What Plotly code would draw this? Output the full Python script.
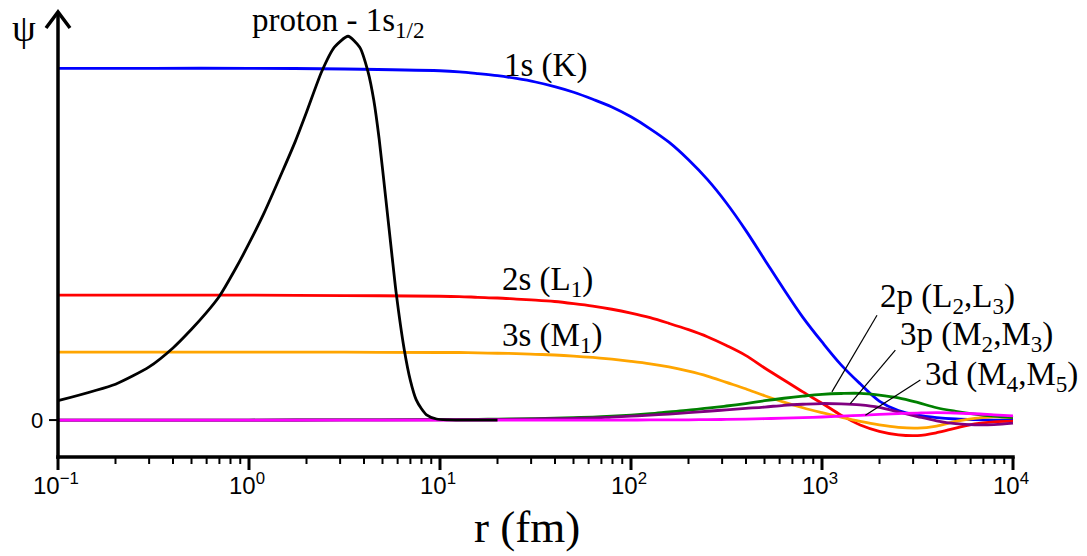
import math
import plotly.graph_objects as go

# radial distance (fm) at which the electron wave functions are tabulated
r_grid = [0.1, 0.316, 1, 3.16, 10, 12.6, 15.8, 20, 25.1, 31.6, 39.8, 50.1,
          63.1, 79.4, 100, 126, 158, 200, 251, 316, 398, 501, 631, 794, 1000,
          1259, 1585, 1995, 2512, 3162, 3981, 5012, 6310, 7943, 10000]

psi_1s = [1.000, 1.000, 1.000, 0.998, 0.993, 0.990, 0.985, 0.979, 0.971, 0.961,
          0.948, 0.932, 0.912, 0.890, 0.862, 0.828, 0.790, 0.740, 0.684, 0.617,
          0.540, 0.456, 0.372, 0.292, 0.222, 0.157, 0.103, 0.054, 0.027, 0.014,
          0.007, 0.003, 0.001, 0.000, 0.000]
psi_2s = [0.355, 0.355, 0.355, 0.354, 0.352, 0.351, 0.349, 0.347, 0.344, 0.341,
          0.337, 0.331, 0.324, 0.315, 0.304, 0.291, 0.275, 0.257, 0.237, 0.212,
          0.184, 0.148, 0.114, 0.080, 0.048, 0.014, -0.014, -0.032, -0.042,
          -0.044, -0.036, -0.023, -0.011, -0.005, -0.003]
psi_3s = [0.193, 0.193, 0.193, 0.193, 0.192, 0.192, 0.191, 0.190, 0.189, 0.187,
          0.185, 0.182, 0.178, 0.173, 0.167, 0.160, 0.151, 0.139, 0.125, 0.107,
          0.089, 0.069, 0.051, 0.035, 0.021, 0.008, -0.004, -0.014, -0.021,
          -0.023, -0.017, -0.004, 0.005, 0.009, 0.007]
psi_2p = [0.0, 0.0, 0.0001, 0.0004, 0.0012, 0.0016, 0.0020, 0.0026, 0.0033,
          0.0042, 0.0053, 0.0067, 0.0085, 0.011, 0.014, 0.018, 0.023, 0.028,
          0.034, 0.040, 0.047, 0.055, 0.062, 0.068, 0.073, 0.0755, 0.076, 0.071,
          0.063, 0.050, 0.035, 0.025, 0.017, 0.011, 0.007]
psi_3p = [0.0, 0.0, 0.0001, 0.0003, 0.0009, 0.0012, 0.0015, 0.0019, 0.0024,
          0.0030, 0.0038, 0.0048, 0.0060, 0.0085, 0.011, 0.014, 0.017, 0.021,
          0.025, 0.029, 0.033, 0.037, 0.042, 0.045, 0.047, 0.046, 0.043, 0.036,
          0.023, 0.010, -0.002, -0.010, -0.0135, -0.013, -0.009]
psi_3d = [0.0, 0.0, 0.0, 0.0, 0.0, 0.0, 0.0, 0.0, 0.0, 0.0, 0.0, 0.0, 0.0001,
          0.0001, 0.0002, 0.0003, 0.0005, 0.0008, 0.0012, 0.0018, 0.0027,
          0.0040, 0.0053, 0.0068, 0.0087, 0.011, 0.0135, 0.016, 0.0185, 0.020,
          0.021, 0.020, 0.018, 0.015, 0.012]

# proton 1s1/2 wave function
r_proton = [0.1, 0.2, 0.3, 0.4, 0.5, 0.6, 0.7, 0.85, 1.0, 1.2, 1.5, 1.75, 2.0,
            2.4, 2.8, 3.3, 3.8, 4.2, 4.5, 4.8, 5.2, 5.6, 5.9, 6.5, 7.0, 7.5,
            8.0, 8.5, 9.6, 11, 13, 20]
psi_proton = [0.055, 0.102, 0.151, 0.205, 0.258, 0.306, 0.352, 0.430, 0.502,
              0.589, 0.708, 0.793, 0.875, 0.990, 1.060, 1.091, 1.060, 0.990,
              0.910, 0.800, 0.630, 0.470, 0.360, 0.200, 0.112, 0.058, 0.032,
              0.015, 0.003, 0.0005, 0.0, 0.0]

x_tickvals = [0.1, 1, 10, 100, 1000, 10000]
x_ticktext = ["10<sup>\u22121</sup>", "10<sup>0</sup>", "10<sup>1</sup>",
              "10<sup>2</sup>", "10<sup>3</sup>", "10<sup>4</sup>"]
x_minor_vals = [m * d for d in (0.1, 1, 10, 100, 1000) for m in range(2, 10)]
y_tickvals = [0]
y_ticktext = ["0"]

# visible axis extent and where it sits on the page (pixels)
R_LOG_MIN, R_LOG_MAX = -1, 4
PSI_MIN, PSI_MAX = -0.105, 1.16
AX_LEFT, AX_RIGHT = 58, 1013
AX_BOTTOM, AX_TOP = 457, 12

W, H = 1087, 556
# plotting area is a little larger than the drawn axes so that the
# hand-drawn axis lines and ticks sit inside it
L, R, T, B = 40, 67, 6, 80
SERIF = "Liberation Serif"
SANS = "Liberation Sans"

DEC_PX = (AX_RIGHT - AX_LEFT) / (R_LOG_MAX - R_LOG_MIN)
PSI_PER_PX = (PSI_MAX - PSI_MIN) / (AX_BOTTOM - AX_TOP)
x_range = [R_LOG_MIN - (AX_LEFT - L) / DEC_PX,
           R_LOG_MAX + (W - R - AX_RIGHT) / DEC_PX]
y_range = [PSI_MIN - (H - B - AX_BOTTOM) * PSI_PER_PX,
           PSI_MAX + (AX_TOP - T) * PSI_PER_PX]


def fx(px):
    return (px - L) / (W - L - R)


def fy(py):
    return (H - B - py) / (H - T - B)


def r_px(r):
    return AX_LEFT + DEC_PX * (math.log10(r) - R_LOG_MIN)


def psi_py(psi):
    return AX_BOTTOM - (psi - PSI_MIN) / PSI_PER_PX


fig = go.Figure()

orbitals = [
    (psi_1s, "#0000ff"),
    (psi_2s, "#ff0000"),
    (psi_3s, "#ffa500"),
    (psi_2p, "#008000"),
    (psi_3p, "#800080"),
    (psi_3d, "#ff00ff"),
]
for values, color in orbitals:
    fig.add_trace(go.Scatter(
        x=r_grid, y=values, mode="lines",
        line=dict(color=color, width=2.8, shape="spline", smoothing=1.0),
        hoverinfo="skip", showlegend=False))

fig.add_trace(go.Scatter(
    x=r_proton, y=psi_proton, mode="lines",
    line=dict(color="black", width=2.8, shape="spline", smoothing=0.6),
    hoverinfo="skip", showlegend=False))

# leader lines from the p/d labels to their curves
leaders = [
    ([1941, 1127], [0.298, 0.080]),
    ([2421, 1406], [0.199, 0.047]),
    ([3273, 1687], [0.114, 0.014]),
]
for lx, ly in leaders:
    fig.add_trace(go.Scatter(
        x=lx, y=ly, mode="lines", line=dict(color="black", width=1.2),
        hoverinfo="skip", showlegend=False))

labels = [
    ("proton - 1s<sub>1/2</sub>", 250, 22),
    ("1s (K)", 502, 65),
    ("2s (L<sub>1</sub>)", 500, 281),
    ("3s (M<sub>1</sub>)", 500, 337),
    ("2p (L<sub>2</sub>,L<sub>3</sub>)", 878, 298),
    ("3p (M<sub>2</sub>,M<sub>3</sub>)", 898, 336),
    ("3d (M<sub>4</sub>,M<sub>5</sub>)", 923, 376),
]
annotations = []
for text, px, py in labels:
    annotations.append(dict(
        text=text, x=fx(px), y=fy(py), xref="paper", yref="paper",
        xanchor="left", yanchor="middle", showarrow=False,
        font=dict(family=SERIF, size=33, color="black")))

annotations.append(dict(
    text="\u03c8", x=fx(24), y=fy(28), xref="paper", yref="paper",
    xanchor="center", yanchor="middle", showarrow=False,
    font=dict(family=SERIF, size=38, color="black")))
annotations.append(dict(
    text="r (fm)", x=fx(527), y=fy(527), xref="paper", yref="paper",
    xanchor="center", yanchor="middle", showarrow=False,
    font=dict(family=SERIF, size=45, color="black")))

# tick labels
for v, t in zip(x_tickvals, x_ticktext):
    annotations.append(dict(
        text=t, x=fx(r_px(v) - 2), y=fy(484), xref="paper", yref="paper",
        xanchor="center", yanchor="middle", showarrow=False,
        font=dict(family=SANS, size=24, color="black")))
for v, t in zip(y_tickvals, y_ticktext):
    annotations.append(dict(
        text=t, x=fx(45), y=fy(psi_py(v)), xref="paper", yref="paper",
        xanchor="right", yanchor="middle", showarrow=False,
        font=dict(family=SANS, size=22, color="black")))

shapes = []


def seg(x0, y0, x1, y1, width):
    shapes.append(dict(type="line", xref="paper", yref="paper",
                       x0=fx(x0), y0=fy(y0), x1=fx(x1), y1=fy(y1),
                       line=dict(color="black", width=width)))


# axis lines
seg(AX_LEFT - 1.75, AX_BOTTOM, AX_RIGHT + 1.75, AX_BOTTOM, 3.5)
seg(AX_LEFT, AX_BOTTOM + 1.75, AX_LEFT, AX_TOP + 1, 3.5)
# arrowhead on top of the psi axis
shapes.append(dict(
    type="path", xref="paper", yref="paper",
    path="M {} {} L {} {} L {} {}".format(
        fx(AX_LEFT - 12), fy(AX_TOP + 16), fx(AX_LEFT), fy(AX_TOP),
        fx(AX_LEFT + 12), fy(AX_TOP + 16)),
    line=dict(color="black", width=3.5)))
# ticks
for v in x_tickvals:
    seg(r_px(v), AX_BOTTOM, r_px(v), AX_BOTTOM + 13, 3)
for v in x_minor_vals:
    seg(r_px(v), AX_BOTTOM, r_px(v), AX_BOTTOM + 7, 2)
for v in y_tickvals:
    seg(AX_LEFT - 9, psi_py(v), AX_LEFT, psi_py(v), 2)

fig.update_layout(
    width=W, height=H,
    margin=dict(l=L, r=R, t=T, b=B),
    plot_bgcolor="white", paper_bgcolor="white",
    showlegend=False,
    annotations=annotations,
    shapes=shapes,
    xaxis=dict(type="log", range=x_range, visible=False),
    yaxis=dict(range=y_range, visible=False),
)

fig.write_html("out.html")
